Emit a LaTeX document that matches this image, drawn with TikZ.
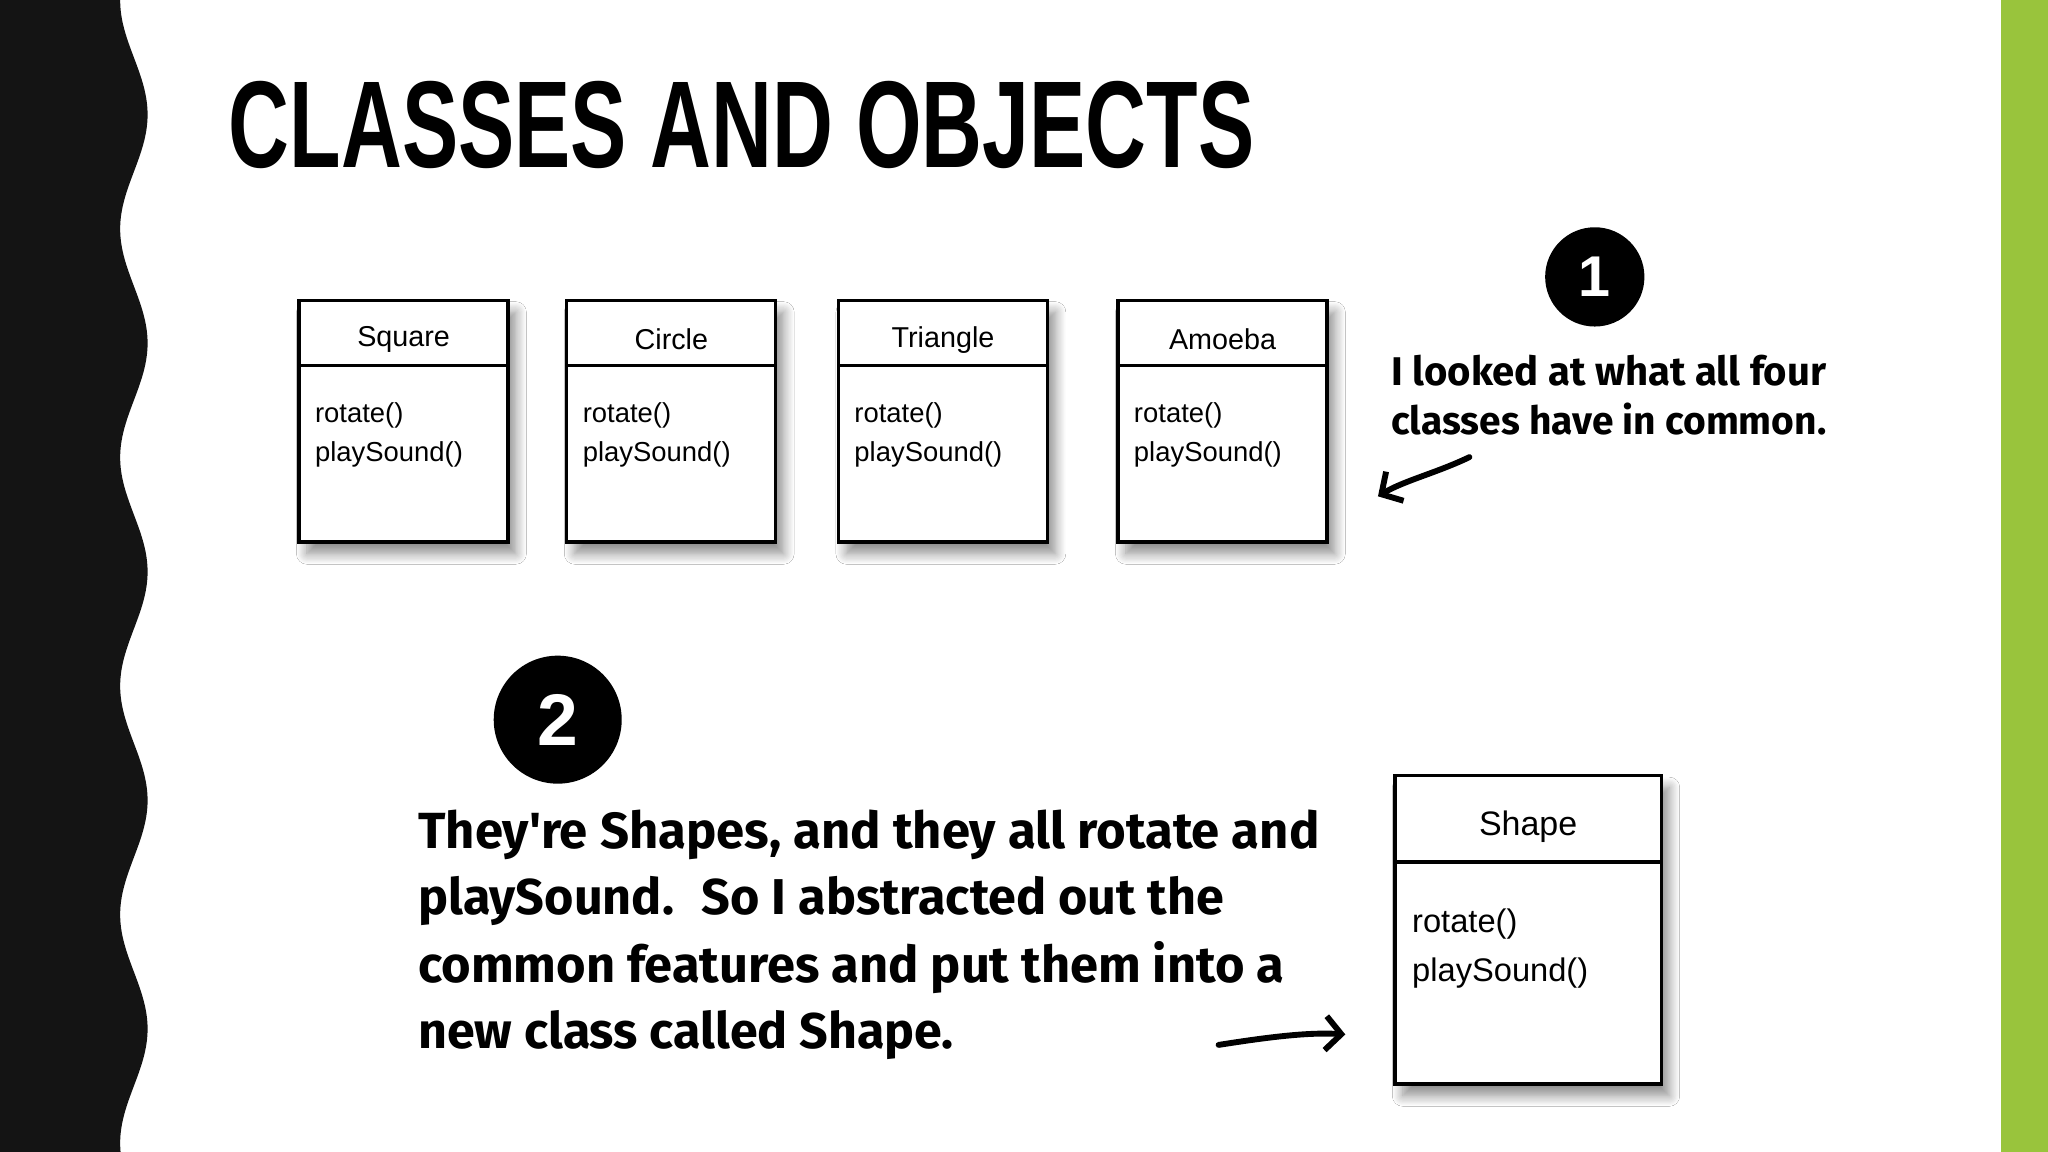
\documentclass[tikz,border=0pt]{standalone}
\usepackage{fontspec}
\setmainfont{Liberation Sans}
\newfontfamily\hand{Fira Sans}
\usetikzlibrary{shadows.blur,arrows.meta}
\definecolor{barg}{RGB}{153,196,60}
\tikzset{
 clsbox/.style={draw=black,line width=2.5pt,fill=white,blur shadow={shadow xshift=6pt,shadow yshift=-9pt,shadow blur radius=8pt,shadow blur steps=10,shadow opacity=45}},
 clsname/.style={font=\fontsize{22}{24}\selectfont,anchor=center},
 meth/.style={font=\fontsize{21}{30}\selectfont,anchor=north west,align=left,inner sep=0pt},
 numc/.style={circle,fill=black,minimum size=#1,inner sep=0pt,text=white},
 handtxt/.style={anchor=base west,inner sep=0pt},
 arr/.style={line width=4.5pt,line cap=round,-{Straight Barb[length=12pt,width=26pt,line width=4.5pt]}}
}
\begin{document}
\begin{tikzpicture}[x=1pt,y=-1pt]
\useasboundingbox (0,0) rectangle (1568,882);
\fill[white] (0,0) rectangle (1568,882);
% wavy strip
\fill[black!92] (0,0) -- plot[domain=0:882,samples=200,smooth] ({102.5+10.5*sin(((\x-44)/175)*360)},\x) -- (0,882) -- cycle;
\fill[barg] (1532,0) rectangle (1568,882);
% title
\node[anchor=base west,inner sep=0pt] (title) at (175,128) {\resizebox{785pt}{66pt}{\bfseries CLASSES AND OBJECTS}};
% class boxes
\foreach \n/\x/\t in {sq/229/Square,ci/434/Circle,tr/642/Triangle,am/856/Amoeba}{
 \draw[clsbox] (\x,230) rectangle (\x+160,415);
 \draw[line width=2.5pt] (\x,280) -- (\x+160,280);
 \node[clsname] (\n) at (\x+80,260) {\t};
 \node[meth] (\n m) at (\x+12,308) {rotate()\\playSound()};
}
% Shape box
\draw[clsbox] (1068,594) rectangle (1272,830);
\draw[line width=2.5pt] (1068,660) -- (1272,660);
\node[clsname,font=\fontsize{26}{28}\selectfont] (shape) at (1170,633) {Shape};
\node[meth,font=\fontsize{25}{37}\selectfont] (shapem) at (1081,696) {rotate()\\playSound()};
% number circles
\node[numc=76pt,font=\bfseries\fontsize{44}{44}\selectfont] (n1) at (1221,212) {1};
\node[numc=98pt,font=\bfseries\fontsize{56}{56}\selectfont] (n2) at (427,551) {2};
% text 1
\node[handtxt] (t1a) at (1065,295) {\resizebox{333pt}{!}{\hand\bfseries I looked at what all four}};
\node[handtxt] (t1b) at (1065,333) {\resizebox{333pt}{!}{\hand\bfseries classes have in common.}};
\coordinate (a1s) at (1125,350);
\coordinate (a1e) at (1055,380);
\draw[arr] (a1s) .. controls (1100,362) and (1075,368) .. (a1e);
% text 2
\node[handtxt] (t2a) at (320,650) {\resizebox{690pt}{!}{\hand\bfseries They're Shapes, and they all rotate and}};
\node[handtxt] (t2b) at (320,700) {\resizebox{617pt}{!}{\hand\bfseries playSound.~ So I abstracted out the}};
\node[handtxt] (t2c) at (320,752) {\resizebox{663pt}{!}{\hand\bfseries common features and put them into a}};
\node[handtxt] (t2d) at (320,803) {\resizebox{410pt}{!}{\hand\bfseries new class called Shape.}};
\coordinate (a2s) at (933,800);
\coordinate (a2e) at (1030,792);
\draw[arr] (a2s) .. controls (965,795) and (1000,790) .. (a2e);
\end{tikzpicture}
\end{document}
